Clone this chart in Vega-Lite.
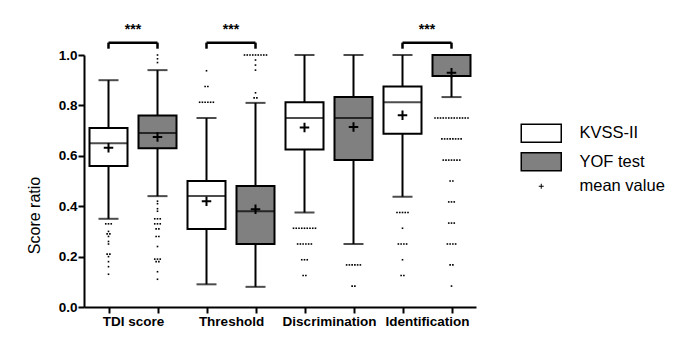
{
  "$schema": "https://vega.github.io/schema/vega-lite/v6.json",
  "width": 392,
  "height": 252,
  "autosize": "none",
  "padding": {"left": 84, "top": 55, "right": 204, "bottom": 54},
  "background": "white",
  "config": {
    "view": {"stroke": null},
    "font": "Liberation Sans",
    "axis": {"grid": false, "domainColor": "black", "domainWidth": 2, "tickColor": "black", "tickWidth": 2, "tickSize": 6, "labelColor": "black", "labelFont": "Liberation Sans", "labelFontWeight": "bold", "labelFontSize": 13.5, "titleColor": "black", "titleFont": "Liberation Sans", "titleFontWeight": "normal"}
  },
  "datasets": {
    "stats": [
      {"box": "TDI score|K", "grp": "KVSS-II", "lo": 0.35, "q1": 0.56, "med": 0.65, "q3": 0.71, "hi": 0.90, "mean": 0.632},
      {"box": "TDI score|Y", "grp": "YOF test", "lo": 0.44, "q1": 0.63, "med": 0.69, "q3": 0.76, "hi": 0.94, "mean": 0.675},
      {"box": "Threshold|K", "grp": "KVSS-II", "lo": 0.09, "q1": 0.31, "med": 0.44, "q3": 0.50, "hi": 0.75, "mean": 0.42},
      {"box": "Threshold|Y", "grp": "YOF test", "lo": 0.08, "q1": 0.25, "med": 0.38, "q3": 0.48, "hi": 0.81, "mean": 0.388},
      {"box": "Discrimination|K", "grp": "KVSS-II", "lo": 0.375, "q1": 0.625, "med": 0.75, "q3": 0.8125, "hi": 1.0, "mean": 0.712},
      {"box": "Discrimination|Y", "grp": "YOF test", "lo": 0.25, "q1": 0.583, "med": 0.75, "q3": 0.833, "hi": 1.0, "mean": 0.714},
      {"box": "Identification|K", "grp": "KVSS-II", "lo": 0.4375, "q1": 0.6875, "med": 0.8125, "q3": 0.875, "hi": 1.0, "mean": 0.761},
      {"box": "Identification|Y", "grp": "YOF test", "lo": 0.833, "q1": 0.917, "med": 1.0, "q3": 1.0, "hi": 1.0, "mean": 0.93}
    ],
    "brackets": [
      {"a": "TDI score|K", "b": "TDI score|Y", "label": "***"},
      {"a": "Threshold|K", "b": "Threshold|Y", "label": "***"},
      {"a": "Identification|K", "b": "Identification|Y", "label": "***"}
    ],
    "outliers": [
      {"box": "TDI score|K", "v": 0.33}, {"box": "TDI score|K", "v": 0.33}, {"box": "TDI score|K", "v": 0.33},
      {"box": "TDI score|K", "v": 0.30}, {"box": "TDI score|K", "v": 0.29}, {"box": "TDI score|K", "v": 0.29},
      {"box": "TDI score|K", "v": 0.28}, {"box": "TDI score|K", "v": 0.26}, {"box": "TDI score|K", "v": 0.25},
      {"box": "TDI score|K", "v": 0.21}, {"box": "TDI score|K", "v": 0.21}, {"box": "TDI score|K", "v": 0.20},
      {"box": "TDI score|K", "v": 0.18}, {"box": "TDI score|K", "v": 0.16}, {"box": "TDI score|K", "v": 0.13},
      {"box": "TDI score|Y", "v": 1.0}, {"box": "TDI score|Y", "v": 0.985}, {"box": "TDI score|Y", "v": 0.97},
      {"box": "TDI score|Y", "v": 0.42}, {"box": "TDI score|Y", "v": 0.41}, {"box": "TDI score|Y", "v": 0.39},
      {"box": "TDI score|Y", "v": 0.38}, {"box": "TDI score|Y", "v": 0.35}, {"box": "TDI score|Y", "v": 0.35},
      {"box": "TDI score|Y", "v": 0.35}, {"box": "TDI score|Y", "v": 0.33}, {"box": "TDI score|Y", "v": 0.33},
      {"box": "TDI score|Y", "v": 0.33}, {"box": "TDI score|Y", "v": 0.31}, {"box": "TDI score|Y", "v": 0.31},
      {"box": "TDI score|Y", "v": 0.28}, {"box": "TDI score|Y", "v": 0.28}, {"box": "TDI score|Y", "v": 0.24},
      {"box": "TDI score|Y", "v": 0.19}, {"box": "TDI score|Y", "v": 0.19}, {"box": "TDI score|Y", "v": 0.19},
      {"box": "TDI score|Y", "v": 0.18}, {"box": "TDI score|Y", "v": 0.18}, {"box": "TDI score|Y", "v": 0.14},
      {"box": "TDI score|Y", "v": 0.11},
      {"box": "Threshold|K", "v": 0.9375}, {"box": "Threshold|K", "v": 0.875}, {"box": "Threshold|K", "v": 0.875},
      {"box": "Threshold|K", "v": 0.8125}, {"box": "Threshold|K", "v": 0.8125}, {"box": "Threshold|K", "v": 0.8125},
      {"box": "Threshold|K", "v": 0.8125}, {"box": "Threshold|K", "v": 0.8125}, {"box": "Threshold|K", "v": 0.8125},
      {"box": "Threshold|Y", "v": 1.0}, {"box": "Threshold|Y", "v": 1.0}, {"box": "Threshold|Y", "v": 1.0},
      {"box": "Threshold|Y", "v": 1.0}, {"box": "Threshold|Y", "v": 1.0}, {"box": "Threshold|Y", "v": 1.0},
      {"box": "Threshold|Y", "v": 1.0}, {"box": "Threshold|Y", "v": 1.0}, {"box": "Threshold|Y", "v": 1.0},
      {"box": "Threshold|Y", "v": 0.98}, {"box": "Threshold|Y", "v": 0.96}, {"box": "Threshold|Y", "v": 0.94},
      {"box": "Threshold|Y", "v": 0.85}, {"box": "Threshold|Y", "v": 0.83}, {"box": "Threshold|Y", "v": 0.83},
      {"box": "Discrimination|K", "v": 0.3125}, {"box": "Discrimination|K", "v": 0.3125}, {"box": "Discrimination|K", "v": 0.3125},
      {"box": "Discrimination|K", "v": 0.3125}, {"box": "Discrimination|K", "v": 0.3125}, {"box": "Discrimination|K", "v": 0.3125},
      {"box": "Discrimination|K", "v": 0.3125}, {"box": "Discrimination|K", "v": 0.3125}, {"box": "Discrimination|K", "v": 0.3125},
      {"box": "Discrimination|K", "v": 0.25}, {"box": "Discrimination|K", "v": 0.25}, {"box": "Discrimination|K", "v": 0.25},
      {"box": "Discrimination|K", "v": 0.25}, {"box": "Discrimination|K", "v": 0.25}, {"box": "Discrimination|K", "v": 0.25},
      {"box": "Discrimination|K", "v": 0.1875}, {"box": "Discrimination|K", "v": 0.1875}, {"box": "Discrimination|K", "v": 0.1875},
      {"box": "Discrimination|K", "v": 0.125}, {"box": "Discrimination|K", "v": 0.125},
      {"box": "Discrimination|Y", "v": 0.167}, {"box": "Discrimination|Y", "v": 0.167}, {"box": "Discrimination|Y", "v": 0.167},
      {"box": "Discrimination|Y", "v": 0.167}, {"box": "Discrimination|Y", "v": 0.167}, {"box": "Discrimination|Y", "v": 0.167},
      {"box": "Discrimination|Y", "v": 0.083}, {"box": "Discrimination|Y", "v": 0.083},
      {"box": "Identification|K", "v": 0.375}, {"box": "Identification|K", "v": 0.375}, {"box": "Identification|K", "v": 0.375},
      {"box": "Identification|K", "v": 0.375}, {"box": "Identification|K", "v": 0.375}, {"box": "Identification|K", "v": 0.3125},
      {"box": "Identification|K", "v": 0.25}, {"box": "Identification|K", "v": 0.25}, {"box": "Identification|K", "v": 0.25},
      {"box": "Identification|K", "v": 0.25}, {"box": "Identification|K", "v": 0.1875}, {"box": "Identification|K", "v": 0.125},
      {"box": "Identification|K", "v": 0.125},
      {"box": "Identification|Y", "v": 0.75}, {"box": "Identification|Y", "v": 0.75}, {"box": "Identification|Y", "v": 0.75},
      {"box": "Identification|Y", "v": 0.75}, {"box": "Identification|Y", "v": 0.75}, {"box": "Identification|Y", "v": 0.75},
      {"box": "Identification|Y", "v": 0.75}, {"box": "Identification|Y", "v": 0.75}, {"box": "Identification|Y", "v": 0.75},
      {"box": "Identification|Y", "v": 0.75}, {"box": "Identification|Y", "v": 0.75}, {"box": "Identification|Y", "v": 0.75},
      {"box": "Identification|Y", "v": 0.75},
      {"box": "Identification|Y", "v": 0.667}, {"box": "Identification|Y", "v": 0.667}, {"box": "Identification|Y", "v": 0.667},
      {"box": "Identification|Y", "v": 0.667}, {"box": "Identification|Y", "v": 0.667}, {"box": "Identification|Y", "v": 0.667},
      {"box": "Identification|Y", "v": 0.667}, {"box": "Identification|Y", "v": 0.667},
      {"box": "Identification|Y", "v": 0.583}, {"box": "Identification|Y", "v": 0.583}, {"box": "Identification|Y", "v": 0.583},
      {"box": "Identification|Y", "v": 0.583}, {"box": "Identification|Y", "v": 0.583}, {"box": "Identification|Y", "v": 0.583},
      {"box": "Identification|Y", "v": 0.583},
      {"box": "Identification|Y", "v": 0.5}, {"box": "Identification|Y", "v": 0.5},
      {"box": "Identification|Y", "v": 0.417}, {"box": "Identification|Y", "v": 0.417}, {"box": "Identification|Y", "v": 0.417},
      {"box": "Identification|Y", "v": 0.333}, {"box": "Identification|Y", "v": 0.333}, {"box": "Identification|Y", "v": 0.333},
      {"box": "Identification|Y", "v": 0.25}, {"box": "Identification|Y", "v": 0.25}, {"box": "Identification|Y", "v": 0.25},
      {"box": "Identification|Y", "v": 0.25},
      {"box": "Identification|Y", "v": 0.167}, {"box": "Identification|Y", "v": 0.167},
      {"box": "Identification|Y", "v": 0.083}
    ]
  },
  "encoding": {
    "x": {
      "field": "box", "type": "nominal",
      "scale": {"type": "point", "padding": 0.5, "domain": ["TDI score|K", "TDI score|Y", "Threshold|K", "Threshold|Y", "Discrimination|K", "Discrimination|Y", "Identification|K", "Identification|Y"]},
      "axis": {"title": null, "labelAngle": 0, "labelOffset": 24.5, "labelPadding": 1, "labelOverlap": false, "labelFlush": false, "labelBound": false, "labelExpr": "indexof(datum.value, '|K') > 0 ? split(datum.value, '|')[0] : ''"}
    },
    "y": {"type": "quantitative", "title": "Score ratio", "scale": {"domain": [0, 1], "nice": false},
      "axis": {"values": [0, 0.2, 0.4, 0.6, 0.8, 1.0], "format": ".1f", "labelPadding": 1, "title": "Score ratio", "titleFontSize": 16, "titleFontWeight": "normal", "titleColor": "black", "titleX": -50, "titleY": 160, "titleAlign": "center", "titleBaseline": "middle", "titleAngle": 270}}
  },
  "layer": [
    {
      "data": {"name": "stats"},
      "mark": {"type": "rule", "color": "black", "strokeWidth": 2},
      "encoding": {"y": {"field": "lo"}, "y2": {"field": "hi"}}
    },
    {
      "data": {"name": "stats"},
      "mark": {"type": "bar", "size": 38, "stroke": "black", "strokeWidth": 2},
      "encoding": {
        "y": {"field": "q1"},
        "y2": {"field": "q3"},
        "fill": {
          "field": "grp", "type": "nominal",
          "scale": {"domain": ["KVSS-II", "YOF test", "mean value"], "range": ["#ffffff", "#808080", "#000000"]},
          "legend": {
            "title": null, "orient": "none", "legendX": 449, "legendY": 70, "padding": 0,
            "symbolSize": 400, "symbolType": "M-2,-0.9H2V0.9H-2Z",
            "symbolStrokeColor": "black", "symbolStrokeWidth": 1.5,
            "labelFontSize": 16.5, "labelFont": "Liberation Sans", "labelColor": "black", "labelOffset": 30, "rowPadding": 3.5,
            "encode": {"symbols": {"update": {
              "shape": {"signal": "datum.value === 'mean value' ? 'M-0.25,0H0.25M0,-0.25V0.25' : 'M-2,-0.9H2V0.9H-2Z'"},
              "strokeWidth": {"signal": "datum.value === 'mean value' ? 1 : 1.5"},
              "stroke": {"value": "black"}
            }}}
          }
        }
      }
    },
    {
      "data": {"name": "stats"},
      "mark": {"type": "tick", "size": 38, "thickness": 2, "color": "black"},
      "encoding": {"y": {"field": "med"}}
    },
    {
      "data": {"name": "stats"},
      "mark": {"type": "tick", "size": 20, "thickness": 2, "color": "black"},
      "encoding": {"y": {"field": "lo"}}
    },
    {
      "data": {"name": "stats"},
      "mark": {"type": "tick", "size": 20, "thickness": 2, "color": "black"},
      "encoding": {"y": {"field": "hi"}}
    },
    {
      "data": {"name": "stats"},
      "mark": {"type": "point", "shape": "M-1,0H1M0,-1V1", "size": 90, "filled": false, "stroke": "black", "strokeWidth": 2, "opacity": 1},
      "encoding": {"y": {"field": "mean"}}
    },
    {
      "data": {"name": "outliers"},
      "transform": [
        {"window": [{"op": "row_number", "as": "rn"}, {"op": "count", "as": "cnt"}], "groupby": ["box", "v"], "frame": [null, null]},
        {"calculate": "datum.rn - (datum.cnt + 1) / 2", "as": "off"}
      ],
      "mark": {"type": "square", "size": 2.6, "color": "black", "opacity": 1},
      "encoding": {
        "y": {"field": "v"},
        "xOffset": {"field": "off", "type": "quantitative", "scale": {"domain": [-1, 1], "range": [-2.75, 2.75]}}
      }
    },
    {
      "data": {"name": "brackets"},
      "mark": {"type": "rule", "color": "black", "strokeWidth": 2.5},
      "encoding": {"x": {"field": "a", "type": "nominal"}, "x2": {"field": "b"}, "y": {"datum": 1.049}}
    },
    {
      "data": {"name": "brackets"},
      "mark": {"type": "rule", "color": "black", "strokeWidth": 2.5},
      "encoding": {"x": {"field": "a", "type": "nominal"}, "y": {"datum": 1.049}, "y2": {"datum": 1.025}}
    },
    {
      "data": {"name": "brackets"},
      "mark": {"type": "rule", "color": "black", "strokeWidth": 2.5},
      "encoding": {"x": {"field": "b", "type": "nominal"}, "y": {"datum": 1.049}, "y2": {"datum": 1.025}}
    },
    {
      "data": {"name": "brackets"},
      "mark": {"type": "text", "dx": 24.5, "fontSize": 14, "fontWeight": "bold", "font": "Liberation Sans", "color": "black", "baseline": "middle"},
      "encoding": {"x": {"field": "a", "type": "nominal"}, "y": {"datum": 1.1}, "text": {"field": "label"}}
    }
  ]
}
